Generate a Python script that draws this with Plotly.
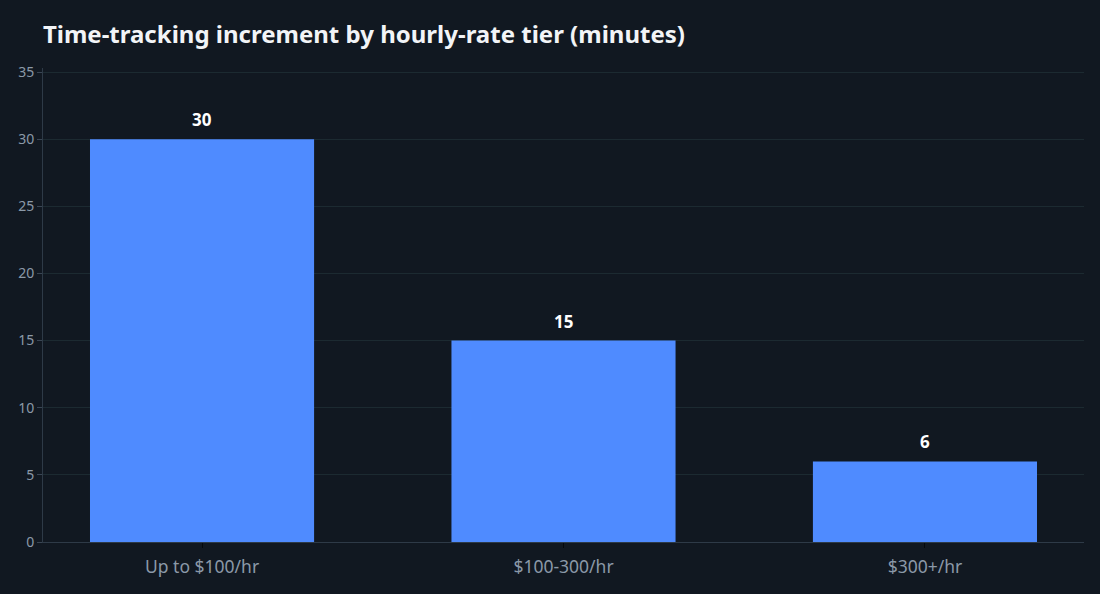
import plotly.graph_objects as go

categories = ["Up to $100/hr", "$100-300/hr", "$300+/hr"]
increments = [30, 15, 6]
label_texts = ["30", "15", "6"]

fig = go.Figure(go.Bar(
    x=categories, y=increments,
    marker=dict(color="#4F8BFF", line=dict(width=0)),
    hoverinfo="skip",
))

for c, v, t in zip(categories, increments, label_texts):
    fig.add_annotation(x=c, y=v, text=f"<b>{t}</b>", showarrow=False,
                       yanchor="bottom", yshift=6,
                       font=dict(color="#FFFFFF", size=17, family="Noto Sans"))

fig.update_layout(
    width=1100, height=594,
    paper_bgcolor="#111821", plot_bgcolor="#111821",
    margin=dict(l=43, r=16, t=68, b=52),
    bargap=0.38,
    showlegend=False,
    font=dict(family="Noto Sans", color="#8B99A8"),
    title=dict(text="<b>Time-tracking increment by hourly-rate tier (minutes)</b>",
               x=0.039, xanchor="left", y=0.942, yanchor="middle",
               font=dict(size=24, color="#F2F4F7", family="Noto Sans")),
    xaxis=dict(range=[-0.44, 2.44], showgrid=False, showline=True,
               linecolor="#2E3A47", linewidth=1,
               ticks="outside", ticklen=5, tickcolor="#05080c",
               ticklabelstandoff=4,
               tickfont=dict(size=17.5, color="#8B99A8")),
    yaxis=dict(range=[0, 35.3], dtick=5, showgrid=True, gridcolor="#1C2A31",
               showline=True, linecolor="#2E3A47", linewidth=1, zeroline=False,
               ticks="outside", ticklen=5, tickcolor="#3A4654",
               tickfont=dict(size=14, color="#8B99A8")),
)

fig.write_html("out.html", config={"displayModeBar": False},
               post_script="document.body.style.margin='0';")
